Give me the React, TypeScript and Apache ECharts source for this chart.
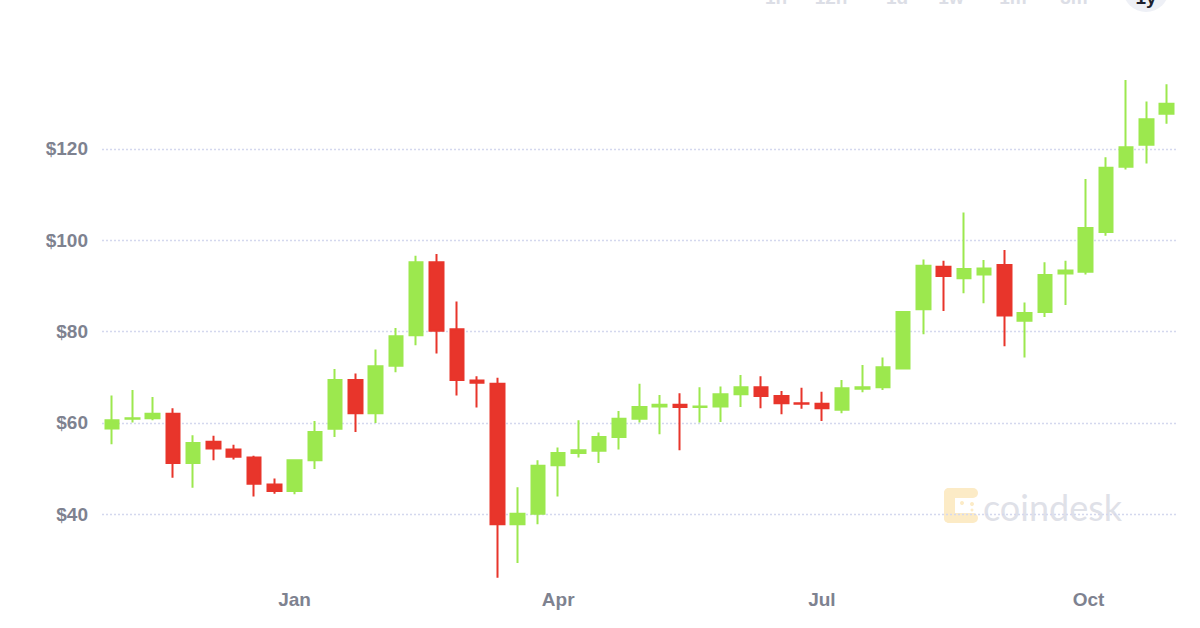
import React, { useEffect, useRef } from "react";
import * as echarts from "echarts";

// Weekly candles (week start dates)
const dates: string[] = [
  "2019-10-30", "2019-11-06", "2019-11-13", "2019-11-20", "2019-11-27",
  "2019-12-04", "2019-12-11", "2019-12-18", "2019-12-25",
  "2020-01-01", "2020-01-08", "2020-01-15", "2020-01-22", "2020-01-29",
  "2020-02-05", "2020-02-12", "2020-02-19", "2020-02-26",
  "2020-03-04", "2020-03-11", "2020-03-18", "2020-03-25",
  "2020-04-01", "2020-04-08", "2020-04-15", "2020-04-22", "2020-04-29",
  "2020-05-06", "2020-05-13", "2020-05-20", "2020-05-27",
  "2020-06-03", "2020-06-10", "2020-06-17", "2020-06-24",
  "2020-07-01", "2020-07-08", "2020-07-15", "2020-07-22", "2020-07-29",
  "2020-08-05", "2020-08-12", "2020-08-19", "2020-08-26",
  "2020-09-02", "2020-09-09", "2020-09-16", "2020-09-23", "2020-09-30",
  "2020-10-07", "2020-10-14", "2020-10-21", "2020-10-28",
];

const opens: number[] = [
  58.8, 60.9, 61.0, 62.0, 51.2, 55.9, 54.2, 52.4, 46.5,
  45.1, 51.8, 58.7, 69.4, 62.1, 72.5, 79.2, 95.2, 80.5,
  69.3, 68.6, 37.8, 40.1, 50.7, 53.4, 53.9, 56.9, 60.9,
  63.6, 64.0, 63.5, 63.6, 66.3, 67.8, 65.9, 64.3,
  64.2, 62.9, 67.5, 67.8, 71.9, 84.9, 94.2, 91.7, 92.5,
  94.6, 82.4, 84.3, 92.7, 93.1, 101.8, 116.1, 120.9, 127.7,
];
const closes: number[] = [
  60.6, 61.0, 62.0, 51.2, 55.6, 54.4, 52.6, 46.7, 45.1,
  51.8, 58.0, 69.4, 62.1, 72.4, 79.0, 95.2, 80.2, 69.4,
  68.8, 37.8, 40.1, 50.6, 53.4, 54.0, 56.9, 60.9, 63.5,
  64.0, 63.5, 63.6, 66.3, 67.8, 65.9, 64.3, 64.2,
  63.2, 67.6, 67.8, 72.2, 84.3, 94.4, 92.2, 93.7, 93.8,
  83.5, 84.1, 92.4, 93.4, 102.7, 115.9, 120.4, 126.5, 129.9,
];
const lows: number[] = [
  55.3, 60.1, 60.6, 48.0, 45.8, 51.8, 52.0, 43.9, 44.5,
  44.4, 49.9, 56.9, 58.0, 60.0, 71.1, 77.0, 75.2, 66.0,
  63.4, 26.1, 29.3, 37.8, 43.9, 52.4, 51.2, 54.2, 60.1,
  57.5, 54.0, 60.1, 60.2, 63.5, 63.2, 61.9, 63.1,
  60.4, 62.1, 66.7, 67.2, 71.8, 79.4, 84.5, 88.4, 86.2,
  76.8, 74.3, 83.2, 85.8, 92.5, 101.0, 115.5, 116.8, 125.5,
];
const highs: number[] = [
  66.0, 67.2, 65.7, 63.2, 57.3, 57.2, 55.2, 52.8, 47.8,
  51.9, 60.4, 71.8, 70.8, 76.1, 80.8, 96.6, 97.0, 86.6,
  70.2, 69.9, 45.9, 51.8, 54.6, 60.6, 57.9, 62.6, 68.6,
  66.1, 66.5, 67.8, 68.0, 70.5, 70.2, 67.0, 67.7,
  66.8, 69.4, 72.7, 74.3, 84.5, 95.8, 95.5, 106.1, 95.7,
  97.9, 86.4, 95.2, 95.5, 113.4, 118.2, 135.1, 130.4, 134.2,
];

const xTickDates: string[] = ["2020-01-01", "2020-04-01", "2020-07-01", "2020-10-01"];
const xTickLabels: string[] = ["Jan", "Apr", "Jul", "Oct"];
const yTickValues: number[] = [40, 60, 80, 100, 120];
const rangeButtons: string[] = ["1h", "12h", "1d", "1w", "1m", "3m", "1y"];

const GREEN = "#9ce84e";
const RED = "#e8352b";
const DAY = 86400000;
const LABEL_FONT = "'Liberation Sans', Arial, Helvetica, sans-serif";

const ts = (d: string) => {
  const [y, m, dd] = d.split("-").map(Number);
  return Date.UTC(y, m - 1, dd);
};

export default function App() {
  const ref = useRef<HTMLDivElement>(null);

  useEffect(() => {
    document.body.style.margin = "0";
    if (!ref.current) return;
    const chart = echarts.init(ref.current, null, { renderer: "svg" });

    const data = dates.map((d, i) => [ts(d), opens[i], closes[i], lows[i], highs[i]]);
    const xTicks = xTickDates.map(ts);
    const labelFor = (v: number) => {
      const idx = xTicks.findIndex((t) => Math.abs(t - v) < DAY / 2);
      return idx >= 0 ? xTickLabels[idx] : "";
    };

    const btnX = [776, 831, 897, 951, 1013, 1074, 1146];
    const buttons: any[] = [
      {
        type: "rect",
        shape: { x: 1123, y: -34, width: 46, height: 46, r: 23 },
        style: { fill: "#eef0f6" },
      },
      ...rangeButtons.map((b, i) => ({
        type: "text",
        x: btnX[i],
        y: -3,
        style: {
          text: b,
          fill: i === rangeButtons.length - 1 ? "#1c1f2e" : "#dcdee6",
          font: "bold 19px " + LABEL_FONT,
          textAlign: "center",
          textVerticalAlign: "middle",
        },
      })),
    ];

    const logoColor = "#fcebc6";
    const logo: any[] = [
      { type: "rect", shape: { x: 944, y: 488, width: 34, height: 10, r: 5 }, style: { fill: logoColor } },
      { type: "rect", shape: { x: 944, y: 488, width: 11, height: 35, r: 5 }, style: { fill: logoColor } },
      { type: "rect", shape: { x: 944, y: 513, width: 34, height: 10, r: 5 }, style: { fill: logoColor } },
      { type: "circle", shape: { cx: 962, cy: 503, r: 2 }, style: { fill: logoColor } },
      { type: "circle", shape: { cx: 972, cy: 504, r: 2 }, style: { fill: logoColor } },
      { type: "circle", shape: { cx: 972, cy: 510, r: 1.5 }, style: { fill: logoColor } },
      {
        type: "text",
        x: 983,
        y: 507,
        style: {
          text: "coindesk",
          fill: "#dfe1e8",
          font: "normal 36px Lato, 'Open Sans', sans-serif",
          textAlign: "left",
          textVerticalAlign: "middle",
        },
      },
    ];

    chart.setOption({
      animation: false,
      backgroundColor: "#ffffff",
      grid: { left: 102, right: 24, top: 66.8, bottom: 45.3, containLabel: false },
      xAxis: {
        type: "value",
        min: ts(dates[0]) - 3.45 * DAY,
        max: ts(dates[dates.length - 1]) + 3.2 * DAY,
        axisLine: { show: false },
        axisTick: { show: false, customValues: xTicks },
        splitLine: { show: false },
        axisLabel: {
          customValues: xTicks,
          formatter: (v: number) => labelFor(v),
          color: "#7e8290",
          fontSize: 19,
          fontWeight: "bold",
          fontFamily: LABEL_FONT,
          margin: 7,
        },
      },
      yAxis: {
        type: "value",
        min: 25,
        max: 138,
        axisLine: { show: false },
        axisTick: { show: false, customValues: yTickValues },
        axisLabel: {
          customValues: yTickValues,
          formatter: (v: number) => "$" + v,
          color: "#7e8290",
          fontSize: 19,
          fontWeight: "bold",
          fontFamily: LABEL_FONT,
          margin: 14,
        },
        splitLine: {
          show: true,
          lineStyle: { color: "#d4d8ee", width: 1.4, type: [2, 2] },
        },
      },
      graphic: [...logo, ...buttons],
      series: [
        {
          type: "candlestick",
          data,
          barWidth: 14,
          clip: false,
          itemStyle: {
            color: GREEN,
            color0: RED,
            borderColor: GREEN,
            borderColor0: RED,
            borderWidth: 2,
          },
        },
      ],
    });

    return () => chart.dispose();
  }, []);

  return <div ref={ref} style={{ width: 1200, height: 628 }} />;
}
